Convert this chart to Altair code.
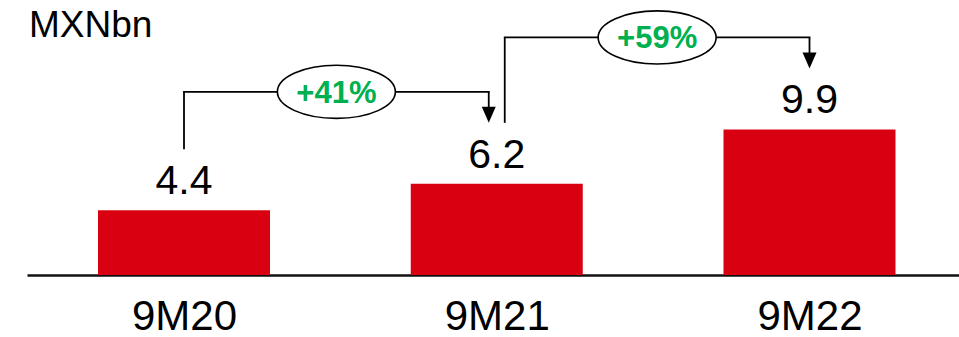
import altair as alt
import pandas as pd

# Period totals, in MXN billions
categories = ["9M20", "9M21", "9M22"]
values = [4.4, 6.2, 9.9]
# Year-on-year growth between consecutive periods
growth_labels = ["+41%", "+59%"]
unit_label = ["MXNbn"]

FONT = "Liberation Sans"
RED = "#D90012"
GREEN = "#00B050"

PX_PER_STEP = 312.75          # horizontal distance between category centres
BAR_HALF = 86 / PX_PER_STEP    # half bar width in x units
SHIFT = 8 / PX_PER_STEP        # keeps two brackets meeting at one bar apart

bars = pd.DataFrame({"idx": list(range(len(categories))), "cat": categories, "value": values})

rows = []
last = len(categories) - 1
for i, lab in enumerate(growth_labels):
    x0 = i + (SHIFT if i > 0 else 0)
    x1 = (i + 1) - (SHIFT if i + 1 < last else 0)
    rows.append({"x0": x0, "x1": x1, "xm": (x0 + x1) / 2,
                 "y_from": values[i], "y_to": values[i + 1], "label": lab})
brackets = pd.DataFrame(rows)

x_scale = alt.Scale(domain=[-157 / PX_PER_STEP, (932 - 157) / PX_PER_STEP], nice=False, zero=False)
y_scale = alt.Scale(domain=[0, 275 / 14.7], nice=False)

label_expr = "[" + ",".join(f"'{c}'" for c in categories) + "][datum.value]"

base = alt.Chart(bars)

bar_layer = base.transform_calculate(
    lo=f"datum.idx - {BAR_HALF}", hi=f"datum.idx + {BAR_HALF}"
).mark_bar(color=RED).encode(
    x=alt.X("lo:Q", scale=x_scale, axis=alt.Axis(
        values=list(range(len(categories))), labelExpr=label_expr,
        labelFont=FONT, labelFontSize=42, labelColor="black",
        labelBaseline="alphabetic", labelPadding=54, ticks=False, tickSize=0,
        grid=False, domain=True, domainColor="#111111", domainWidth=2.4, title=None)),
    x2="hi:Q",
    y=alt.Y("value:Q", scale=y_scale, axis=None),
    y2=alt.datum(0),
)

value_text = base.mark_text(font=FONT, fontSize=41, baseline="alphabetic", dy=-16, color="black").encode(
    x=alt.X("idx:Q", scale=x_scale),
    y=alt.Y("value:Q", scale=y_scale),
    text=alt.Text("value:Q", format=".1f"),
)

bk = alt.Chart(brackets)
line_style = dict(color="black", strokeWidth=1.8)

left_leg = bk.mark_rule(yOffset=-61, y2Offset=-92, **line_style).encode(
    x=alt.X("x0:Q", scale=x_scale), y=alt.Y("y_from:Q", scale=y_scale), y2="y_to:Q")

top_leg = bk.mark_rule(yOffset=-92, strokeCap="square", **line_style).encode(
    x=alt.X("x0:Q", scale=x_scale), x2="x1:Q", y=alt.Y("y_to:Q", scale=y_scale))

shaft = bk.mark_rule(yOffset=-92, y2Offset=-76, **line_style).encode(
    x=alt.X("x1:Q", scale=x_scale), y=alt.Y("y_to:Q", scale=y_scale), y2="y_to:Q")

arrow_head = bk.mark_point(shape="M-0.875,-1L0.875,-1L0,1Z", size=256, filled=True,
                           color="black", opacity=1, yOffset=-69).encode(
    x=alt.X("x1:Q", scale=x_scale), y=alt.Y("y_to:Q", scale=y_scale))

ellipse = bk.mark_point(shape="M-1,0A1,0.45,0,1,1,1,0A1,0.45,0,1,1,-1,0Z", size=118 * 118,
                        filled=True, fill="white", stroke="black", strokeWidth=1.6,
                        opacity=1, yOffset=-92).encode(
    x=alt.X("xm:Q", scale=x_scale), y=alt.Y("y_to:Q", scale=y_scale))

growth_text = bk.mark_text(font=FONT, fontSize=31, fontWeight="bold", color=GREEN,
                           baseline="middle", yOffset=-92, dy=2).encode(
    x=alt.X("xm:Q", scale=x_scale), y=alt.Y("y_to:Q", scale=y_scale), text="label:N")

unit_text = alt.Chart(pd.DataFrame({"u": unit_label})).mark_text(
    font=FONT, fontSize=37, align="left", baseline="alphabetic", color="black").encode(
    x=alt.value(2), y=alt.value(37), text="u:N")

chart = alt.layer(
    bar_layer, value_text, left_leg, top_leg, shaft, arrow_head, ellipse, growth_text, unit_text
).properties(
    width=932, height=275,
    padding={"left": 27, "top": 0, "right": 0, "bottom": 62},
    autosize=alt.AutoSizeParams(type="none"),
    background="white",
).configure_view(stroke=None, strokeWidth=0)

chart.save("out.html", embed_options={"renderer": "svg", "actions": False})
